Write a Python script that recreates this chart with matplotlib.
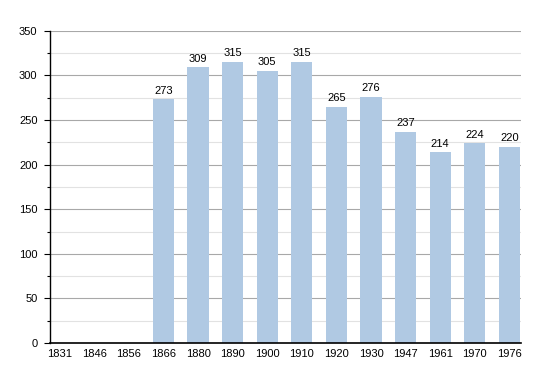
import numpy as np
import matplotlib
matplotlib.use("Agg")
import matplotlib.pyplot as plt

plt.rcParams['font.family'] = ['Liberation Sans', 'DejaVu Sans']

years = ["1831", "1846", "1856", "1866", "1880", "1890", "1900",
         "1910", "1920", "1930", "1947", "1961", "1970", "1976"]
population = [None, None, None, 273, 309, 315, 305, 315, 265, 276, 237, 214, 224, 220]

fig = plt.figure(figsize=(5.5, 3.73), dpi=100)
ax = fig.add_axes([0.0909, 0.0804, 0.856, 0.837])

x = np.arange(len(years))
for xi, v in zip(x, population):
    if v is None:
        continue
    ax.bar(xi, v, width=0.61, color="#b0c9e3", zorder=2)
    ax.text(xi, v + 4, str(v), ha="center", va="bottom", fontsize=8, zorder=3)

ax.set_xlim(-0.28, len(years) - 0.67)
ax.set_ylim(0, 350)
ax.set_xticks(x)
ax.set_xticklabels(years, fontsize=8)
ax.set_yticks(np.arange(0, 351, 50))
ax.set_yticks(np.arange(25, 350, 50), minor=True)
ax.tick_params(axis="y", labelsize=8, length=4, width=0.8, color="black", pad=5)
ax.tick_params(axis="y", which="minor", length=2.5, width=0.8)
ax.tick_params(axis="x", length=0, pad=4)

ax.grid(axis="y", which="major", color="#a8a8a8", linewidth=0.8, zorder=0)
ax.grid(axis="y", which="minor", color="#e2e2e2", linewidth=0.8, zorder=0)
ax.set_axisbelow(True)

for s in ["top", "right"]:
    ax.spines[s].set_visible(False)
ax.spines["left"].set_linewidth(1.0)
ax.spines["bottom"].set_linewidth(1.2)

fig.savefig("out.png", dpi=100)
